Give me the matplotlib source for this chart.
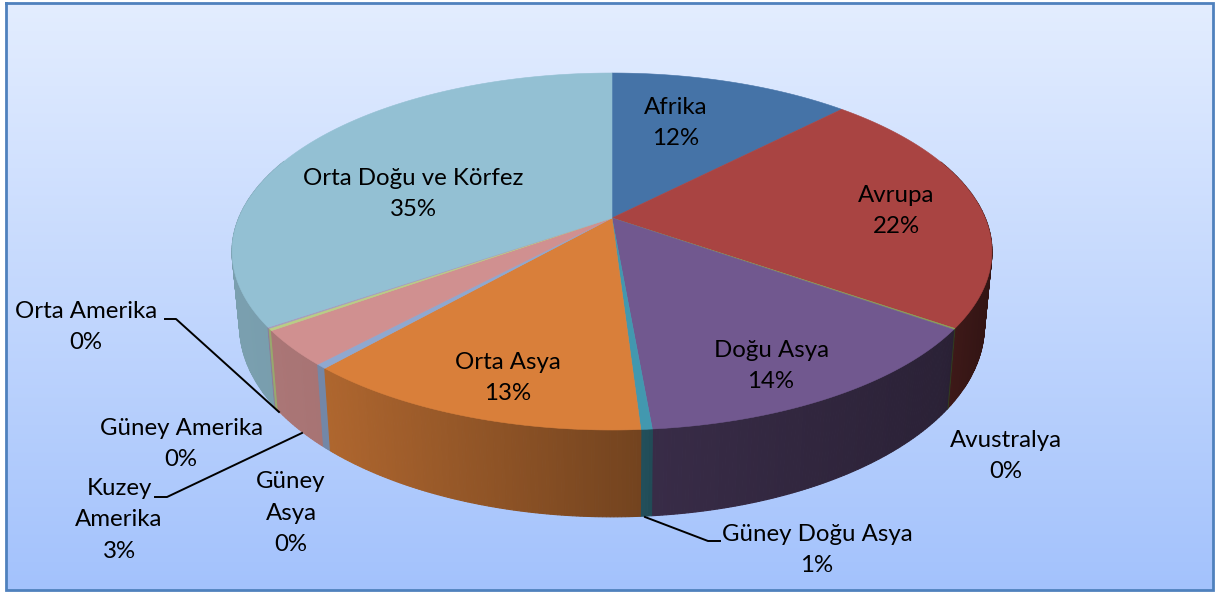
import matplotlib
matplotlib.use('Agg')
import matplotlib.pyplot as plt
import numpy as np
from matplotlib.colors import to_rgb, LinearSegmentedColormap

plt.rcParams['font.family'] = ['Lato', 'DejaVu Sans']

# slices clockwise from 12 o'clock, shares
names = ['Afrika', 'Avrupa', 'Avustralya', 'Doğu Asya', 'Güney Doğu Asya', 'Orta Asya',
         'Güney\nAsya', 'Kuzey\nAmerika', 'Güney Amerika', 'Orta Amerika', 'Orta Doğu ve Körfez']
shares = [12.3, 22.4, 0.1, 13.8, 0.4, 12.5, 0.4, 3.2, 0.2, 0.1, 34.6]
percents = ['12%', '22%', '0%', '14%', '1%', '13%', '0%', '3%', '0%', '0%', '35%']
colors = ['#4573a7', '#a94442', '#8a9f55', '#71588f', '#4298af', '#d97f3a',
          '#8fa8d0', '#d09090', '#b9cd85', '#a99bbd', '#93c0d3']
label_pos = [(676, 123), (896, 211), (1006, 456), (771, 366), (817, 550), (508, 378),
             (291, 513), (119, 520), (181, 444), (86, 327), (413, 194)]

# perspective of the disc
cx, cy = 612, 218
A, B, k = 373.2, 172.2, 0.1877
depth, grow_x, grow_y = 72, 0.98, 1.07


def top_xy(t):
    u, v = np.sin(t), np.cos(t)
    w = 1 + k * v
    return cx + A * u / w, cy - B * v / w


def bottom_xy(t):
    x, y = top_xy(t)
    return cx + grow_x * (x - cx), cy + depth + grow_y * (y - cy)


def side_shade(x):
    return np.interp(x, [240, 330, 640, 650, 945, 990], [0.83, 0.80, 0.53, 0.50, 0.38, 0.30])


fig = plt.figure(figsize=(12.16, 5.92), dpi=100)
ax = fig.add_axes([0, 0, 1, 1])
ax.set_xlim(0, 1216)
ax.set_ylim(592, 0)
ax.axis('off')

# background
bg = LinearSegmentedColormap.from_list('bg', ['#e3edff', '#a3c2fc'])
ax.imshow(np.linspace(0, 1, 256).reshape(-1, 1), cmap=bg, extent=(6, 1213, 590, 3), aspect='auto', zorder=0)
ax.set_xlim(0, 1216)
ax.set_ylim(592, 0)
ax.plot([6, 1213, 1213, 6, 6], [3, 3, 590, 590, 3], color='#4f81bd', lw=2.0, zorder=1, solid_joinstyle='miter')

edges = np.cumsum([0] + shares) / sum(shares) * 2 * np.pi

# side wall, back to front, small strips so the shading runs along the rim
strips = []
for i in range(len(shares)):
    n = max(2, int((edges[i + 1] - edges[i]) * 120))
    ts = np.linspace(edges[i], edges[i + 1], n + 1)
    for a, b in zip(ts[:-1], ts[1:]):
        strips.append((np.cos((a + b) / 2), a, b, colors[i]))
strips.sort(key=lambda s: -s[0])
for v, a, b, c in strips:
    if v > 0.35:
        continue
    x1, y1 = top_xy(np.array([a, b]))
    x2, y2 = bottom_xy(np.array([b, a]))
    col = np.array(to_rgb(c)) * side_shade((x1[0] + x1[1]) / 2)
    ax.fill(np.r_[x1, x2], np.r_[y1, y2], color=col, lw=0.8, zorder=2)

# top face
for i in range(len(shares)):
    ts = np.linspace(edges[i], edges[i + 1], max(3, int((edges[i + 1] - edges[i]) * 100)))
    x, y = top_xy(ts)
    ax.fill(np.r_[cx, x], np.r_[cy, y], color=colors[i], lw=0.4, zorder=3)

# labels
for name, pct, pos in zip(names, percents, label_pos):
    ax.text(pos[0], pos[1], name + '\n' + pct, ha='center', va='center', fontsize=17.3,
            linespacing=1.62, color='black', zorder=5)

# leader lines
ax.plot([165, 176, 279], [319, 319, 412], color='black', lw=1.4, zorder=4)
ax.plot([155, 167, 302], [497, 497, 433], color='black', lw=1.4, zorder=4)
ax.plot([645, 708, 720], [517, 541, 541], color='black', lw=1.4, zorder=4)

fig.savefig('out.png', dpi=100)
